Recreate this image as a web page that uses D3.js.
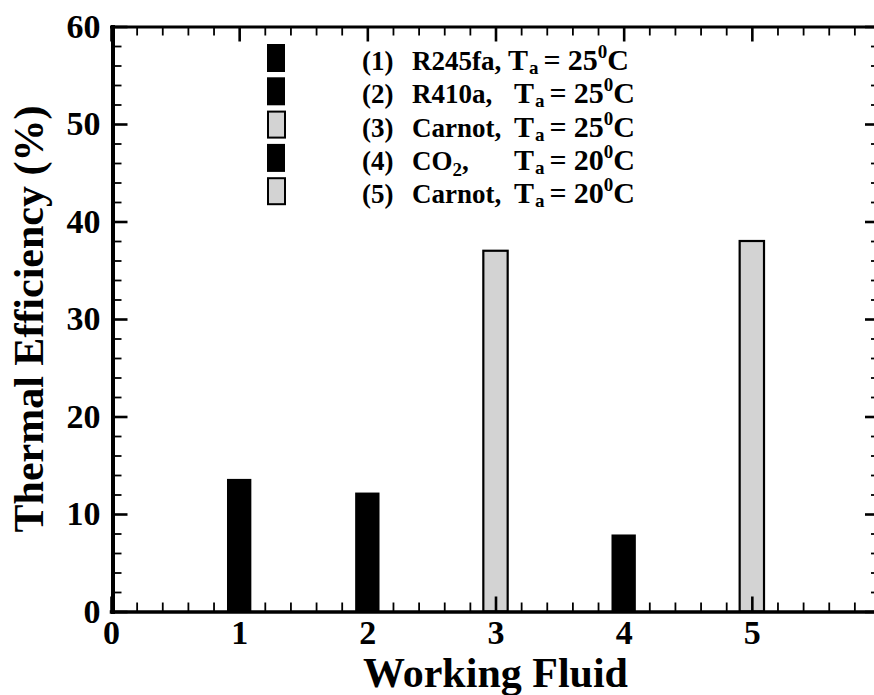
<!DOCTYPE html>
<html>
<head>
<meta charset="utf-8">
<script src="https://cdn.jsdelivr.net/npm/d3@7"></script>
<style>
  body { margin: 0; background: #fff; }
  svg { display: block; }
  text { font-family: "Liberation Serif", "Times New Roman", serif; font-weight: bold; fill: #000; }
</style>
</head>
<body>
<svg id="chart" width="874" height="695"></svg>
<script>
// Thermal efficiency of each working fluid / reference cycle
const fluids = [1, 2, 3, 4, 5];
const efficiency = [13.6, 12.2, 37.0, 7.9, 38.0];
const fillColors = ["#000000", "#000000", "#d3d3d3", "#000000", "#d3d3d3"];

// Legend entries
const caseNumbers = ["(1)", "(2)", "(3)", "(4)", "(5)"];
const fluidNames = ["R245fa,", "R410a,", "Carnot,", "CO2,", "Carnot,"];
const ambientTemps = ["25", "25", "25", "20", "20"];

// Tick labels
const xTicks = [0, 1, 2, 3, 4, 5];
const yTicks = [0, 10, 20, 30, 40, 50, 60];

const svg = d3.select("#chart");
const plotLeft = 111, plotRight = 880, plotTop = 26.5, plotBottom = 611.5;

const x = d3.scaleLinear().domain([0, 6]).range([plotLeft, plotRight]);
const y = d3.scaleLinear().domain([0, 60]).range([plotBottom, plotTop]);

const barWidth = 0.19;

// Bars
svg.append("g")
  .selectAll("rect")
  .data(fluids)
  .join("rect")
  .attr("x", (d) => x(d - barWidth / 2))
  .attr("width", x(barWidth) - x(0))
  .attr("y", (d, i) => y(efficiency[i]))
  .attr("height", (d, i) => y(0) - y(efficiency[i]))
  .attr("fill", (d, i) => fillColors[i])
  .attr("stroke", (d, i) => fillColors[i] === "#000000" ? "none" : "#000")
  .attr("stroke-width", 2.2);

// Minor tick positions
const xMinor = d3.range(0, 6.001, 0.2).map((v) => +v.toFixed(1)).filter((v) => !Number.isInteger(v));
const yMinor = d3.range(0, 60.001, 2).filter((v) => v % 10 !== 0);

function styleAxis(g, domainWidth, tickWidth) {
  g.select(".domain").attr("stroke-width", domainWidth).attr("stroke-linecap", "square");
  g.selectAll(".tick line").attr("stroke-width", tickWidth);
  g.selectAll(".tick text").attr("font-size", 34);
  g.attr("font-family", null).attr("font-size", null);
}

function minorAxis(axisFn, scale, values, transform) {
  const g = svg.append("g")
    .attr("transform", transform)
    .call(axisFn(scale).tickValues(values).tickSizeInner(-9).tickSizeOuter(0).tickFormat(""));
  g.select(".domain").remove();
  g.selectAll(".tick line").attr("stroke-width", 1.8);
}

minorAxis(d3.axisBottom, x, xMinor, `translate(0,${plotBottom})`);
minorAxis(d3.axisTop, x, xMinor, `translate(0,${plotTop})`);
minorAxis(d3.axisLeft, y, yMinor, `translate(${plotLeft + 1.5},0)`);
minorAxis(d3.axisRight, y, yMinor, `translate(${plotRight},0)`);

// Major axes
const fmt = d3.format("d");
svg.append("g")
  .attr("transform", `translate(0,${plotBottom})`)
  .call(d3.axisBottom(x).tickValues(xTicks).tickFormat(fmt).tickSizeInner(-15).tickSizeOuter(0).tickPadding(8))
  .call((g) => styleAxis(g, 3.5, 2.6));

svg.append("g")
  .attr("transform", `translate(0,${plotTop})`)
  .call(d3.axisTop(x).tickValues(xTicks).tickSizeInner(-15).tickSizeOuter(0).tickFormat(""))
  .call((g) => styleAxis(g, 3, 2.6));

svg.append("g")
  .attr("transform", `translate(${plotLeft + 1.5},0)`)
  .call(d3.axisLeft(y).tickValues(yTicks).tickFormat(fmt).tickSizeInner(-15).tickSizeOuter(0).tickPadding(12))
  .call((g) => styleAxis(g, 4, 2.6));

svg.append("g")
  .attr("transform", `translate(${plotRight},0)`)
  .call(d3.axisRight(y).tickValues(yTicks).tickSizeInner(-15).tickSizeOuter(0).tickFormat(""))
  .call((g) => styleAxis(g, 3, 2.6));

// Axis titles
svg.append("text")
  .attr("x", (plotLeft + plotRight) / 2)
  .attr("y", 687)
  .attr("text-anchor", "middle")
  .attr("font-size", 42)
  .text("Working Fluid");

svg.append("text")
  .attr("transform", `translate(43,${(plotTop + plotBottom) / 2}) rotate(-90)`)
  .attr("text-anchor", "middle")
  .attr("font-size", 42)
  .text("Thermal Efficiency (%)");

// Legend
const legend = svg.append("g");
const rowPitch = 33.3, firstBaseline = 70, fs = 27, tfs = 30, small = 19;

fluids.forEach((d, i) => {
  const base = firstBaseline + i * rowPitch;
  const row = legend.append("g");
  if (fillColors[i] === "#000000") {
    row.append("rect").attr("x", 267).attr("y", base - 26).attr("width", 18).attr("height", 28).attr("fill", "#000");
  } else {
    row.append("rect").attr("x", 268).attr("y", base - 25).attr("width", 17).attr("height", 26)
      .attr("fill", fillColors[i]).attr("stroke", "#000").attr("stroke-width", 2);
  }
  row.append("text").attr("x", 362).attr("y", base).attr("font-size", fs).text(caseNumbers[i]);

  const name = row.append("text").attr("x", 412).attr("y", base).attr("font-size", fs);
  const m = fluidNames[i].match(/^CO(\d)(,?)$/);
  if (m) {
    name.append("tspan").text("CO");
    name.append("tspan").attr("font-size", small).attr("dy", 6).text(m[1]);
    name.append("tspan").attr("dy", -6).text(m[2]);
  } else {
    name.text(fluidNames[i]);
  }
  const tx = i === 0 ? 508 : 514;

  const t = row.append("text").attr("x", tx).attr("y", base).attr("font-size", tfs);
  t.append("tspan").text("T");
  t.append("tspan").attr("font-size", small).attr("dx", 1).attr("dy", 4).text("a");
  t.append("tspan").attr("dx", 5).attr("dy", -4).text("=");
  t.append("tspan").attr("dx", 7).text(ambientTemps[i]);
  t.append("tspan").attr("font-size", small).attr("dy", -12).text("0");
  t.append("tspan").attr("dy", 12).text("C");
});
</script>
</body>
</html>
